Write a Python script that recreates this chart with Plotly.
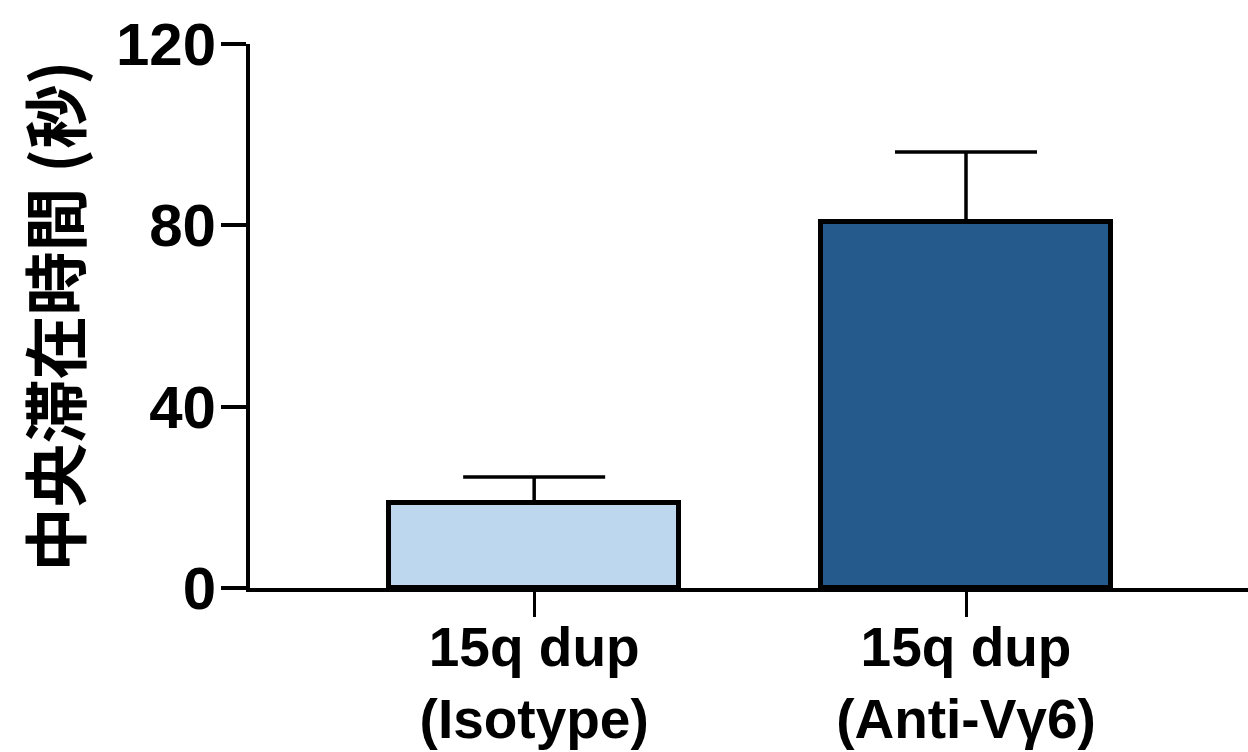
import plotly.graph_objects as go

categories = ["15q dup<br>(Isotype)", "15q dup<br>(Anti-Vγ6)"]
means = [18.8, 80.8]
sem_up = [5.7, 15.4]
bar_colors = ["#bcd7ee", "#255a8c"]
y_ticks = [0, 40, 80, 120]
y_title = "中央滞在時間 (秒)"

FONT = "Liberation Sans, Arial, Noto Sans CJK JP, sans-serif"

fig = go.Figure()
fig.add_trace(go.Bar(
    x=[0, 1],
    y=means,
    width=0.67,
    marker=dict(color=bar_colors, line=dict(color="black", width=5)),
    error_y=dict(type="data", array=sem_up, arrayminus=[0, 0], symmetric=False,
                 color="black", thickness=3.5, width=71),
    showlegend=False,
))

fig.update_layout(
    width=1248, height=752,
    margin=dict(l=250, r=0, t=44, b=164),
    paper_bgcolor="white", plot_bgcolor="white",
    font=dict(family=FONT, color="black"),
    xaxis=dict(
        tickmode="array", tickvals=[0, 1], ticktext=categories,
        range=[-0.658, 1.653], automargin=False,
        showline=True, linecolor="black", linewidth=4,
        ticks="outside", ticklen=25, tickwidth=3, tickcolor="black",
        ticklabelstandoff=-17,
        tickfont=dict(family=FONT, size=55, weight="bold"),
        showgrid=False, zeroline=False,
    ),
    yaxis=dict(
        range=[0, 120], tickvals=y_ticks, automargin=False,
        showline=True, linecolor="black", linewidth=4,
        ticks="outside", ticklen=25, tickwidth=4, tickcolor="black",
        ticklabelstandoff=-7,
        tickfont=dict(family=FONT, size=60, weight="bold"),
        showgrid=False, zeroline=False,
        title=dict(text=y_title, font=dict(family="Noto Sans CJK JP, " + FONT, size=64, weight="bold"), standoff=15),
    ),
    bargap=0,
)

fig.write_html("out.html", config={"displayModeBar": False},
               post_script="document.body.style.margin='0';document.body.style.overflow='hidden';")
